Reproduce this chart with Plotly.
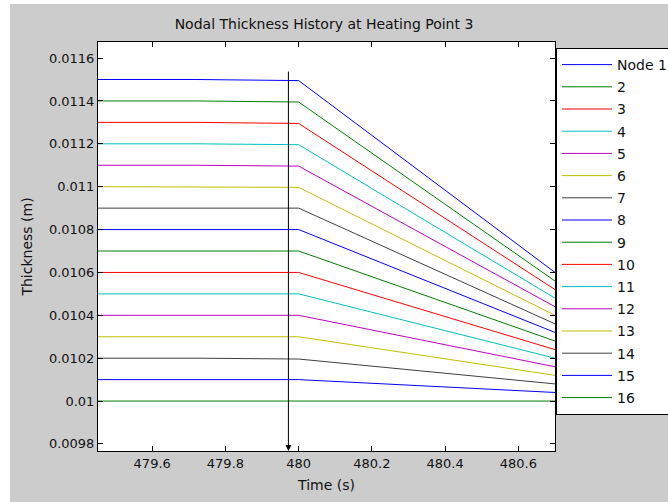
import plotly.graph_objects as go

# ---- data ----
time_s = [479.45, 479.72, 480.0, 480.7]
node_labels = ["Node 1", "2", "3", "4", "5", "6", "7", "8", "9", "10",
               "11", "12", "13", "14", "15", "16"]
thick_start = [0.0115, 0.0114, 0.0113, 0.0112, 0.0111, 0.0110, 0.0109, 0.0108,
               0.0107, 0.0106, 0.0105, 0.0104, 0.0103, 0.0102, 0.0101, 0.0100]
thick_480 = [0.011495, 0.011395, 0.011295, 0.011196, 0.011096, 0.010997, 0.0109, 0.0108,
             0.0107, 0.0106, 0.0105, 0.0104, 0.0103, 0.010196, 0.0101, 0.0100]
thick_end = [0.01060, 0.01056, 0.01052, 0.01048, 0.01044, 0.01040, 0.01036, 0.01032,
             0.01028, 0.01024, 0.01020, 0.01016, 0.01012, 0.01008, 0.01004, 0.01000]
y_ticks = [0.0098, 0.0100, 0.0102, 0.0104, 0.0106, 0.0108, 0.0110, 0.0112, 0.0114, 0.0116]
y_tick_text = ["0.0098", "0.01", "0.0102", "0.0104", "0.0106", "0.0108", "0.011",
               "0.0112", "0.0114", "0.0116"]
x_ticks = [479.6, 479.8, 480.0, 480.2, 480.4, 480.6]
x_tick_text = ["479.6", "479.8", "480", "480.2", "480.4", "480.6"]
arrow_time = 479.972
arrow_top = 0.011544
x_range = [479.452, 480.70]
y_range = [0.009767, 0.011675]

colors = ["#0000ff", "#008000", "#ff0000", "#00bfbf", "#bf00bf", "#bfbf00", "#404040"]

FONT = "DejaVu Sans, Verdana, sans-serif"
TXT = "#111111"

# figure is a bit wider than the window so the legend box runs off the right edge
FIG_W, FIG_H = 700, 502
ML, MR, MT, MB = 98, FIG_W - 555, 42, 51
PW, PH = FIG_W - ML - MR, FIG_H - MT - MB

fig = go.Figure()
for i, name in enumerate(node_labels):
    fig.add_trace(go.Scatter(
        x=time_s,
        y=[thick_start[i], thick_start[i], thick_480[i], thick_end[i]],
        mode="lines",
        name=name,
        legendgroup="g%d" % i,
        line=dict(color=colors[i % len(colors)], width=1),
        hoverinfo="skip",
    ))

fig.add_annotation(
    x=arrow_time, y=y_range[0], ax=arrow_time, ay=arrow_top,
    xref="x", yref="y", axref="x", ayref="y",
    text="", showarrow=True, arrowhead=2, arrowsize=1.2, arrowwidth=1,
    arrowcolor="black",
)

# white strips at the figure edge (gray figure frame offset)
fig.add_shape(type="rect", xref="paper", yref="paper",
              x0=-ML / PW, x1=(10 - ML) / PW, y0=-MB / PH, y1=1 + MT / PH,
              fillcolor="white", line=dict(width=0), layer="below")
fig.add_shape(type="rect", xref="paper", yref="paper",
              x0=-ML / PW, x1=1 + MR / PW, y0=1 + (MT - 4) / PH, y1=1 + MT / PH,
              fillcolor="white", line=dict(width=0), layer="below")

axis_common = dict(
    showline=True, linecolor="black", linewidth=1, mirror="allticks",
    ticks="inside", ticklen=5, tickcolor="black", showgrid=False, zeroline=False,
    tickfont=dict(family=FONT, size=13, color=TXT),
)

fig.update_xaxes(range=x_range, tickvals=x_ticks, ticktext=x_tick_text,
                 title=dict(text="Time (s)", font=dict(family=FONT, size=14, color=TXT),
                            standoff=10),
                 **axis_common)
fig.update_yaxes(range=y_range, tickvals=y_ticks, ticktext=y_tick_text,
                 title=dict(text="Thickness (m)", font=dict(family=FONT, size=14, color=TXT),
                            standoff=13),
                 **axis_common)

fig.update_layout(
    width=FIG_W, height=FIG_H,
    margin=dict(l=ML, r=MR, t=MT, b=MB),
    paper_bgcolor="#cccccc",
    plot_bgcolor="white",
    title=dict(text="Nodal Thickness History at Heating Point 3",
               font=dict(family=FONT, size=14, color=TXT),
               x=324 / FIG_W, xanchor="center", y=1 - 24 / FIG_H, yanchor="middle"),
    showlegend=True,
    legend=dict(
        x=1 + 1 / PW, xanchor="left", y=1 - 6 / PH, yanchor="top",
        bgcolor="white", bordercolor="black", borderwidth=1,
        font=dict(family=FONT, size=14, color=TXT),
        tracegroupgap=1, itemwidth=50,
    ),
)

fig.write_html(
    "out.html",
    config={"displayModeBar": False},
    post_script="document.body.style.margin='0px';document.body.style.overflow='hidden';"
                "document.documentElement.style.overflow='hidden';",
)
